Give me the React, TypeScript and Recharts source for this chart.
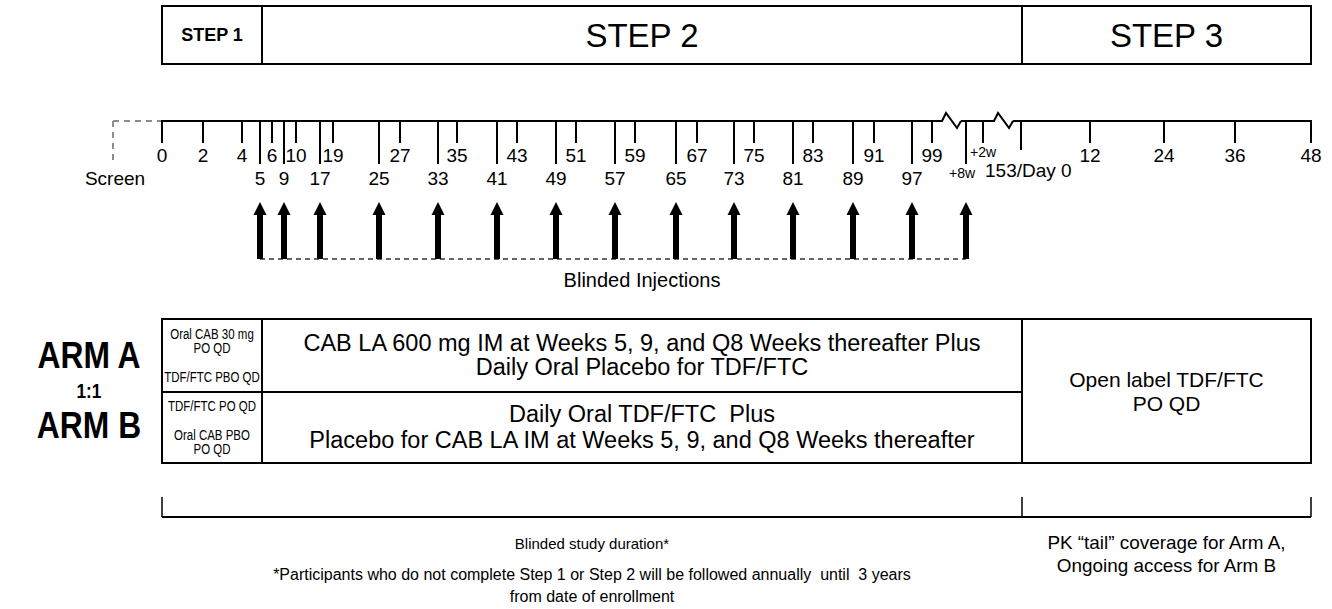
import { ComposedChart, XAxis, YAxis, ReferenceArea, ReferenceLine, Scatter } from "recharts";

const W = 1332;
const H = 609;
const FONT = "'Liberation Sans', Arial, sans-serif";

// schematic timeline: label of each visit mark and where it sits on the drawn axis
const tickLabels = ["0", "2", "4", "5", "6", "9", "10", "17", "19", "25", "27", "33", "35", "41", "43", "49", "51", "57", "59", "65", "67", "73", "75", "81", "83", "89", "91", "97", "99", "+8w", "+2w", "153/Day 0", "12", "24", "36", "48"];
const tickPos = [162, 203, 242, 260, 272, 284, 296, 320, 333, 379, 400, 438, 457, 497, 517, 556, 576, 615, 635, 676, 697, 734, 754, 793, 813, 853, 874, 912, 932, 966, 983, 1021, 1090, 1164, 1235, 1311];
const injectionWeeks = ["5", "9", "17", "25", "33", "41", "49", "57", "65", "73", "81", "89", "97", "+8w"];
const axisBreaks = [952, 1004];

const steps = ["STEP 1", "STEP 2", "STEP 3"];
const stepEdges = [162, 262, 1022, 1311];

const armALeft = ["Oral CAB 30 mg", "PO QD", "", "TDF/FTC PBO QD"];
const armBLeft = ["TDF/FTC PO QD", "", "Oral CAB PBO", "PO QD"];
const armAMain = ["CAB LA 600 mg IM at Weeks 5, 9, and Q8 Weeks thereafter Plus", "Daily Oral Placebo for TDF/FTC"];
const armBMain = ["Daily Oral TDF/FTC  Plus", "Placebo for CAB LA IM at Weeks 5, 9, and Q8 Weeks thereafter"];
const step3Text = ["Open label TDF/FTC", "PO QD"];
const durationText = ["Blinded study duration*"];
const footnote = ["*Participants who do not complete Step 1 or Step 2 will be followed annually  until  3 years", "from date of enrollment"];
const tailText = ["PK \u201Ctail\u201D coverage for Arm A,", "Ongoing access for Arm B"];

const AXIS_Y = 121;
const ARROW_Y = 259;

const ticks = tickLabels.map((label, i) => ({ x: tickPos[i], y: AXIS_Y, label }));
const injections = injectionWeeks.map((w) => ({ x: tickPos[tickLabels.indexOf(w)], y: ARROW_Y, label: w }));
const breaks = axisBreaks.map((x) => ({ x, y: AXIS_Y }));

const TextBlock = (props: any) => {
  const { viewBox, lines, size = 21, lineHeight = 24, weight = "normal", dy = 0, sx = 1 } = props;
  const { x, y, width, height } = viewBox;
  const cx = x + width / 2;
  const cy = y + height / 2 + dy;
  const n = lines.length;
  return (
    <g transform={`translate(${cx},0) scale(${sx},1) translate(${-cx},0)`}>
      {lines.map((t: string, i: number) => (
        <text key={i} x={cx} y={cy + (i - (n - 1) / 2) * lineHeight} textAnchor="middle" dominantBaseline="central"
          fontFamily={FONT} fontSize={size} fontWeight={weight} fill="#000" style={{ whiteSpace: "pre" }}>
          {t}
        </text>
      ))}
    </g>
  );
};

const ArmLabel = (props: any) => {
  const { viewBox } = props;
  const cx = viewBox.x + viewBox.width / 2;
  return (
    <g fontFamily={FONT} fontWeight="bold" fill="#000" textAnchor="middle"
      transform={`translate(${cx},0) scale(0.86,1) translate(${-cx},0)`}>
      <text x={cx} y={355} fontSize={37} dominantBaseline="central">ARM A</text>
      <text x={cx} y={391} fontSize={20} dominantBaseline="central">1:1</text>
      <text x={cx} y={425} fontSize={37} dominantBaseline="central">ARM B</text>
    </g>
  );
};

const TickShape = (props: any) => {
  const { cx, cy, payload } = props;
  const label: string = payload.label;
  const long = injectionWeeks.includes(label);
  const isDay0 = label === "153/Day 0";
  const len = long ? 43 : isDay0 ? 29 : 22;
  let text = null;
  if (label === "+8w") {
    text = <text x={cx - 4} y={cy + 52} textAnchor="middle" dominantBaseline="central" fontSize={14} fontFamily={FONT}>{label}</text>;
  } else if (label === "+2w") {
    text = <text x={cx} y={cy + 31} textAnchor="middle" dominantBaseline="central" fontSize={14} fontFamily={FONT}>{label}</text>;
  } else if (isDay0) {
    text = <text x={cx - 36} y={cy + 49} textAnchor="start" dominantBaseline="central" fontSize={19} fontFamily={FONT}>{label}</text>;
  } else {
    text = <text x={cx} y={cy + (long ? 57 : 34)} textAnchor="middle" dominantBaseline="central" fontSize={19} fontFamily={FONT}>{label}</text>;
  }
  return (
    <g>
      <line x1={cx} y1={cy} x2={cx} y2={cy + len} stroke="#000" strokeWidth={2} />
      {text}
    </g>
  );
};

const ArrowShape = (props: any) => {
  const { cx, cy } = props;
  return (
    <g fill="#000">
      <rect x={cx - 3} y={cy - 46} width={6} height={46} />
      <polygon points={`${cx - 6.5},${cy - 44} ${cx + 6.5},${cy - 44} ${cx},${cy - 57}`} />
    </g>
  );
};

const BreakShape = (props: any) => {
  const { cx, cy } = props;
  return (
    <g>
      <rect x={cx - 9} y={cy - 2} width={18} height={4} fill="#fff" />
      <polyline points={`${cx - 10},${cy} ${cx - 6},${cy - 8} ${cx + 5},${cy + 7} ${cx + 9},${cy}`} fill="none" stroke="#000" strokeWidth={2} />
    </g>
  );
};

const cellStyle = { fill: "#fff", fillOpacity: 1, stroke: "#000", strokeWidth: 2, ifOverflow: "visible" as const };

const App = () => (
  <div style={{ width: W, height: H }}>
    <style>{"body{margin:0}"}</style>
    <ComposedChart width={W} height={H} margin={{ top: 0, right: 0, bottom: 0, left: 0 }}>
      <XAxis type="number" dataKey="x" domain={[0, W]} allowDataOverflow hide />
      <YAxis type="number" dataKey="y" domain={[0, H]} allowDataOverflow reversed hide />

      {steps.map((s, i) => (
        <ReferenceArea key={s} x1={stepEdges[i]} x2={stepEdges[i + 1]} y1={6} y2={64} {...cellStyle}
          label={<TextBlock lines={[s]} size={i === 0 ? 18 : 33} weight={i === 0 ? "bold" : "normal"} />} />
      ))}

      {/* screening lead-in */}
      <ReferenceLine segment={[{ x: 113, y: AXIS_Y }, { x: 162, y: AXIS_Y }]} stroke="#8c8c8c" strokeWidth={2} strokeDasharray="6 5" ifOverflow="visible" />
      <ReferenceLine segment={[{ x: 113, y: AXIS_Y }, { x: 113, y: 162 }]} stroke="#8c8c8c" strokeWidth={2} strokeDasharray="6 5" ifOverflow="visible" />
      <ReferenceArea x1={80} x2={150} y1={166} y2={190} fill="none" stroke="none" ifOverflow="visible"
        label={<TextBlock lines={["Screen"]} size={19} />} />

      {/* time axis */}
      <ReferenceLine segment={[{ x: 161, y: AXIS_Y }, { x: 1312, y: AXIS_Y }]} stroke="#000" strokeWidth={2} ifOverflow="visible" />
      <Scatter data={ticks} shape={TickShape} isAnimationActive={false} />
      <Scatter data={breaks} shape={BreakShape} isAnimationActive={false} />

      {/* injections */}
      <ReferenceLine segment={[{ x: injections[0].x, y: ARROW_Y }, { x: injections[injections.length - 1].x, y: ARROW_Y }]}
        stroke="#333" strokeWidth={1.5} strokeDasharray="5 4" ifOverflow="visible" />
      <Scatter data={injections} shape={ArrowShape} isAnimationActive={false} />
      <ReferenceArea x1={262} x2={1022} y1={268} y2={292} fill="none" stroke="none" ifOverflow="visible"
        label={<TextBlock lines={["Blinded Injections"]} size={20} />} />

      {/* arms */}
      <ReferenceArea x1={30} x2={148} y1={319} y2={463} fill="none" stroke="none" ifOverflow="visible" label={<ArmLabel />} />
      <ReferenceArea x1={162} x2={262} y1={319} y2={392} {...cellStyle}
        label={<TextBlock lines={armALeft} size={14} lineHeight={14.5} sx={0.82} />} />
      <ReferenceArea x1={162} x2={262} y1={392} y2={463} {...cellStyle}
        label={<TextBlock lines={armBLeft} size={14} lineHeight={14.3} sx={0.82} />} />
      <ReferenceArea x1={262} x2={1022} y1={319} y2={392} {...cellStyle}
        label={<TextBlock lines={armAMain} size={23.5} lineHeight={24} dy={-1} />} />
      <ReferenceArea x1={262} x2={1022} y1={392} y2={463} {...cellStyle}
        label={<TextBlock lines={armBMain} size={23.5} lineHeight={26} dy={-1} />} />
      <ReferenceArea x1={1022} x2={1311} y1={319} y2={463} {...cellStyle}
        label={<TextBlock lines={step3Text} size={21} lineHeight={24} />} />

      {/* duration bracket */}
      <ReferenceLine segment={[{ x: 162, y: 517 }, { x: 1311, y: 517 }]} stroke="#000" strokeWidth={2} ifOverflow="visible" />
      {[162, 1022, 1311].map((x) => (
        <ReferenceLine key={x} segment={[{ x, y: 497 }, { x, y: 517 }]} stroke="#000" strokeWidth={1.5} ifOverflow="visible" />
      ))}
      <ReferenceArea x1={162} x2={1022} y1={531} y2={555} fill="none" stroke="none" ifOverflow="visible"
        label={<TextBlock lines={durationText} size={15} />} />
      <ReferenceArea x1={162} x2={1022} y1={563} y2={607} fill="none" stroke="none" ifOverflow="visible"
        label={<TextBlock lines={footnote} size={16} lineHeight={22} />} />
      <ReferenceArea x1={1022} x2={1311} y1={531} y2={578} fill="none" stroke="none" ifOverflow="visible"
        label={<TextBlock lines={tailText} size={18} lineHeight={23} sx={1.05} />} />
    </ComposedChart>
  </div>
);

export default App;
